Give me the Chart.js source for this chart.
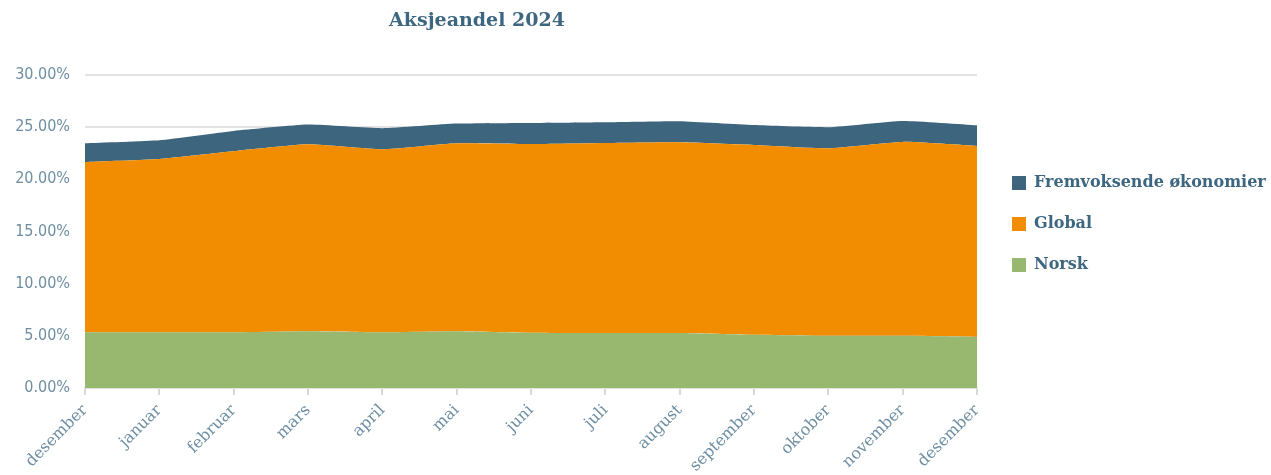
<!DOCTYPE html>
<html lang="no">
<head>
    <meta charset="UTF-8">
    <title>Aksjeandel 2024</title>
    <script src="https://cdn.jsdelivr.net/npm/chart.js"></script>
    <style>
        html, body { margin: 0; padding: 0; background: #fff; }
        .wrap { position: relative; width: 1271px; height: 475px; }
        .chart-title {
            position: absolute;
            top: 8px;
            left: 377px;
            width: 200px;
            text-align: center;
            font-family: "DejaVu Serif", serif;
            font-weight: bold;
            font-size: 19px;
            color: #3d6680;
        }
    </style>
</head>
<body>
<div class="wrap">
    <div class="chart-title">Aksjeandel 2024</div>
    <canvas id="chart" width="1271" height="475"></canvas>
</div>
<script>
// Måneder (desember 2023 til desember 2024)
const months = ['desember', 'januar', 'februar', 'mars', 'april', 'mai', 'juni',
    'juli', 'august', 'september', 'oktober', 'november', 'desember'];

// andel i prosent
const norsk = [5.35, 5.35, 5.35, 5.45, 5.35, 5.45, 5.30, 5.27, 5.27, 5.10, 5.00, 5.00, 4.90];
const global = [16.32, 16.61, 17.35, 17.91, 17.53, 18.01, 18.09, 18.22, 18.29, 18.20, 17.98, 18.59, 18.30];
const fremvoksende = [1.79, 1.79, 1.94, 1.89, 2.02, 1.88, 2.01, 1.98, 2.01, 1.90, 2.02, 2.01, 1.99];

const yTicks = [0, 5, 10, 15, 20, 25, 30];

const tickColor = '#6e8ea3';

function area(label, data, color, fill) {
    return {
        label: label,
        data: data,
        backgroundColor: color,
        borderColor: color,
        borderWidth: 0,
        pointRadius: 0,
        fill: fill,
        tension: 0.15
    };
}

// legend sits beside the plot, a bit above centre
const legendPlace = {
    id: 'legendPlace',
    beforeLayout(chart) {
        const lg = chart.legend;
        if (lg && !lg._patched) {
            const fit = lg.fit;
            lg.fit = function () { fit.call(this); if (!this.isHorizontal()) this.width = 294; };
            lg._patched = true;
        }
    },
    afterLayout(chart) {
        chart.legend.left += 10;
        chart.legend.top = 150;
    }
};

new Chart(document.getElementById('chart'), {
    type: 'line',
    data: {
        labels: months,
        datasets: [
            area('Norsk', norsk, '#97b86e', 'origin'),
            area('Global', global, '#f28c00', '-1'),
            area('Fremvoksende økonomier', fremvoksende, '#3d667e', '-1')
        ]
    },
    plugins: [legendPlace],
    options: {
        responsive: false,
        animation: false,
        layout: { padding: { top: 75, left: 0, right: 0, bottom: 0 } },
        plugins: {
            title: { display: false },
            tooltip: { enabled: false },
            legend: {
                position: 'right',
                align: 'start',
                reverse: true,
                labels: {
                    boxWidth: 14,
                    boxHeight: 14,
                    padding: 25,
                    color: '#3d6680',
                    font: { family: '"DejaVu Serif", serif', weight: 'bold', size: 16 }
                }
            }
        },
        scales: {
            x: {
                offset: false,
                afterFit: axis => { axis.height = 87; },
                grid: {
                    drawOnChartArea: false,
                    drawTicks: true,
                    tickLength: 7,
                    color: '#d9d9d9',
                    lineWidth: 2
                },
                border: { color: '#e3e3e3', width: 2 },
                ticks: {
                    color: tickColor,
                    font: { family: '"DejaVu Serif", serif', size: 16 },
                    padding: 6,
                    maxRotation: 45,
                    minRotation: 45,
                    autoSkip: false
                }
            },
            y: {
                stacked: true,
                min: 0,
                max: 30,
                afterFit: axis => { axis.width = 85; },
                afterBuildTicks: axis => { axis.ticks = yTicks.map(v => ({ value: v })); },
                grid: { color: '#e3e3e3', lineWidth: 2, drawTicks: false },
                border: { display: false },
                ticks: {
                    color: tickColor,
                    font: { family: '"Liberation Sans Narrow", "DejaVu Sans Condensed", sans-serif', size: 16 },
                    padding: 15,
                    callback: v => v.toFixed(2) + '%'
                }
            }
        }
    }
});
</script>
</body>
</html>
